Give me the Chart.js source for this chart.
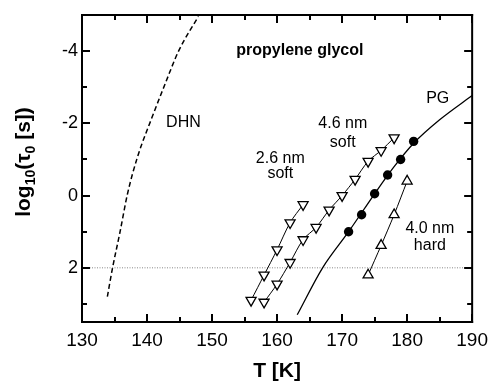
<!DOCTYPE html>
<html>
<head>
<meta charset="utf-8">
<script src="https://cdn.jsdelivr.net/npm/chart.js@4"></script>
<style>
  html, body { margin: 0; padding: 0; background: #fff; }
  #wrap { width: 495px; height: 383px; }
</style>
</head>
<body>
<div id="wrap"><canvas id="c" width="495" height="383"></canvas></div>
<script>
const xMin = 130, xMax = 190
const yMin = -5, yMax = 3.5
const xMajor = [130, 140, 150, 160, 170, 180, 190]
const xMinor = [135, 145, 155, 165, 175, 185]
const yMajor = [-4, -2, 0, 2]
const yMinor = [-5, -3, -1, 1, 3]

// 2.6 nm soft confinement (down triangles)
const soft26T = [156, 158, 160, 162, 164]
const soft26Tau = [2.9, 2.2, 1.5, 0.75, 0.25]
// 4.6 nm soft confinement (down triangles)
const soft46T = [158, 160, 162, 164, 166, 168, 170, 172, 174, 176, 178]
const soft46Tau = [2.95, 2.45, 1.85, 1.22, 0.88, 0.4, 0.0, -0.45, -0.95, -1.25, -1.6]
// bulk PG (filled circles)
const bulkT = [171, 173, 175, 177, 179, 181]
const bulkTau = [1.0, 0.53, -0.05, -0.57, -1.0, -1.5]
// 4.0 nm hard confinement (up triangles)
const hard40T = [174, 176, 178, 180]
const hard40Tau = [2.2, 1.38, 0.53, -0.4]
// PG fit curve
const pgFitT = [163.1, 167, 171, 175, 178, 181, 185, 190]
const pgFitTau = [3.3, 2.0, 1.0, -0.05, -0.8, -1.45, -2.1, -2.77]
// DHN curve (dashed)
const dhnT = [133.9, 134.7, 135.8, 137.0, 138.5, 140.8, 142.8, 144.85, 147.9]
const dhnTau = [2.8, 2.0, 1.05, -0.05, -1.05, -2.18, -3.1, -4.0, -4.96]
// reference level
const refT = [130, 190]
const refTau = [2, 2]

// in-plot labels: [text, T, log tau, bold]
const notes = [
  ["propylene glycol", 163.5, -3.89, true],
  ["DHN", 145.6, -1.91, false],
  ["PG", 184.7, -2.56, false],
  ["4.6 nm", 170.1, -1.86, false],
  ["soft", 170.1, -1.35, false],
  ["2.6 nm", 160.5, -0.89, false],
  ["soft", 160.5, -0.48, false],
  ["4.0 nm", 183.5, 1.04, false],
  ["hard", 183.5, 1.51, false]
]

const FONT = "'Liberation Sans', Arial, sans-serif"
const pts = (xs, ys) => xs.map((x, i) => ({ x, y: ys[i] }))

const frame = {
  id: "frame",
  afterDraw(chart) {
    const ctx = chart.ctx
    const a = chart.chartArea
    const sx = chart.scales.x, sy = chart.scales.y
    ctx.save()
    ctx.fillStyle = "#000"
    // box
    ctx.fillRect(a.left - 1, a.top - 1, a.right - a.left + 2, 2)
    ctx.fillRect(a.left - 1, a.bottom - 1, a.right - a.left + 2, 2)
    ctx.fillRect(a.left - 1, a.top - 1, 2, a.bottom - a.top + 2)
    ctx.fillRect(a.right - 1, a.top - 1, 2, a.bottom - a.top + 2)
    // inward ticks, all four sides
    const xt = (v, len) => {
      const px = Math.round(sx.getPixelForValue(v))
      ctx.fillRect(px - 1, a.bottom - len, 2, len)
      ctx.fillRect(px - 1, a.top, 2, len)
    }
    const yt = (v, len) => {
      const py = Math.round(sy.getPixelForValue(v))
      ctx.fillRect(a.left, py - 1, len, 2)
      ctx.fillRect(a.right - len, py - 1, len, 2)
    }
    xMajor.forEach(v => xt(v, 8))
    xMinor.forEach(v => xt(v, 5))
    yMajor.forEach(v => yt(v, 8))
    yMinor.forEach(v => yt(v, 5))

    ctx.textAlign = "center"
    ctx.textBaseline = "alphabetic"
    notes.forEach(([s, tx, ty, b]) => {
      ctx.font = (b ? "bold " : "") + "16px " + FONT
      ctx.fillText(s, sx.getPixelForValue(tx), sy.getPixelForValue(ty))
    })

    // axis titles
    ctx.font = "bold 21px " + FONT
    ctx.fillText("T [K]", (a.left + a.right) / 2, 377)

    const parts = [["log", 21, 0], ["10", 14, 5], ["(\u03c4", 21, 0], ["0", 14, 5], [" [s])", 21, 0]]
    let total = 0
    parts.forEach(p => { ctx.font = "bold " + p[1] + "px " + FONT; p.push(ctx.measureText(p[0]).width); total += p[3] })
    ctx.translate(30, 162)
    ctx.rotate(-Math.PI / 2)
    ctx.textAlign = "left"
    let cx = -total / 2
    parts.forEach(p => {
      ctx.font = "bold " + p[1] + "px " + FONT
      ctx.fillText(p[0], cx, p[2])
      cx += p[3]
    })
    ctx.restore()
  }
}

const triStyle = rot => ({
  pointStyle: "triangle",
  pointRotation: rot,
  pointRadius: 5.8,
  pointBorderWidth: 1.3,
  pointBorderColor: "#000",
  pointBackgroundColor: "#fff",
  borderColor: "#000",
  borderWidth: 1,
  showLine: true,
  tension: 0.3
})

new Chart(document.getElementById("c"), {
  type: "scatter",
  data: {
    datasets: [
      Object.assign({ data: pts(soft26T, soft26Tau) }, triStyle(180)),
      Object.assign({ data: pts(soft46T, soft46Tau) }, triStyle(180)),
      Object.assign({ data: pts(hard40T, hard40Tau) }, triStyle(0)),
      {
        data: pts(bulkT, bulkTau), showLine: false,
        pointStyle: "circle", pointRadius: 4.7, pointBackgroundColor: "#000", pointBorderColor: "#000", pointBorderWidth: 0
      },
      {
        data: pts(pgFitT, pgFitTau), showLine: true, pointRadius: 0,
        borderColor: "#000", borderWidth: 1.3, cubicInterpolationMode: "monotone"
      },
      {
        data: pts(dhnT, dhnTau), showLine: true, pointRadius: 0,
        borderColor: "#000", borderWidth: 1.5, borderDash: [5, 3], cubicInterpolationMode: "monotone"
      },
      {
        data: pts(refT, refTau), showLine: true, pointRadius: 0,
        borderColor: "#888", borderWidth: 1, borderDash: [1, 1.5]
      }
    ]
  },
  options: {
    responsive: false,
    animation: false,
    events: [],
    layout: { padding: { left: 0, top: 15, right: 16, bottom: 0 } },
    plugins: { legend: { display: false }, tooltip: { enabled: false } },
    scales: {
      x: {
        type: "linear", min: xMin, max: xMax,
        afterFit: s => { s.height = 61 },
        border: { display: false },
        grid: { display: false, drawTicks: false },
        ticks: {
          stepSize: 5, autoSkip: false, maxRotation: 0, padding: 7, color: "#000",
          font: { family: FONT, size: 19 },
          callback: v => xMajor.includes(v) ? String(v) : ""
        }
      },
      y: {
        type: "linear", min: yMin, max: yMax, reverse: true,
        afterFit: s => { s.width = 82 },
        border: { display: false },
        grid: { display: false, drawTicks: false },
        ticks: {
          stepSize: 1, autoSkip: false, padding: 4, color: "#000",
          font: { family: FONT, size: 18 },
          callback: v => yMajor.includes(v) ? String(v) : ""
        }
      }
    }
  },
  plugins: [frame]
})
</script>
</body>
</html>
